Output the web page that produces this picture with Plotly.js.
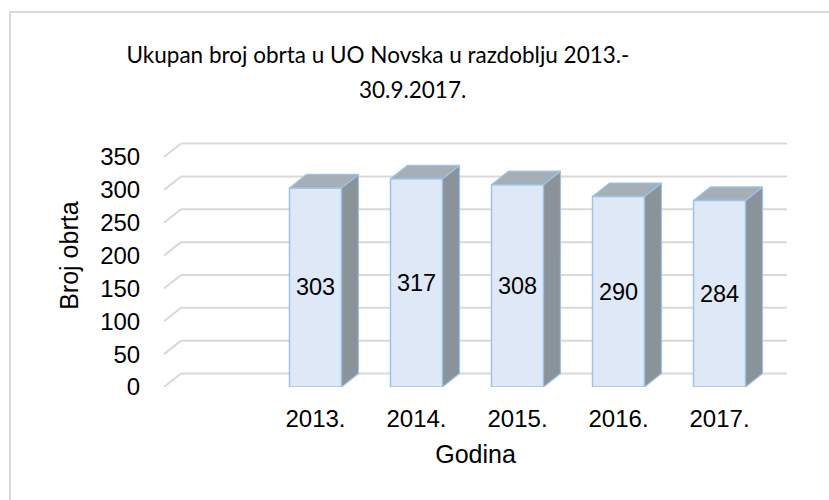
<!DOCTYPE html>
<html>
<head>
<meta charset="utf-8">
<script src="https://cdn.plot.ly/plotly-3.0.1.min.js"></script>
<style>html,body{margin:0;padding:0;background:#fff;}#chart{width:829px;height:500px;}</style>
</head>
<body>
<div id="chart"></div>
<script>
// Data
const categories = ["2013.", "2014.", "2015.", "2016.", "2017."];
const values = [303, 317, 308, 290, 284];
const yTicks = [0, 50, 100, 150, 200, 250, 300, 350];

// 3D look parameters (in axis units)
const barW = 0.515;
const depthX = 0.168;
const depthY = 20.5;
const xMin = -1.5;
const xMax = categories.length - 0.5;

const xs = categories.map((c, i) => i);

// side and top faces computed from data
const sideX = [], sideY = [], topX = [], topY = [];
values.forEach((v, i) => {
  const r = i + barW / 2, l = i - barW / 2;
  sideX.push(r, r + depthX, r + depthX, r, r, null);
  sideY.push(0, depthY, v + depthY, v, 0, null);
  topX.push(l, r, r + depthX, l + depthX, l, null);
  topY.push(v, v, v + depthY, v + depthY, v, null);
});

const edge = '#9dc3e6';
const font = "'Liberation Sans', Arial, sans-serif";
const traces = [
  {
    type: 'bar', x: xs, y: values, width: barW,
    marker: {color: '#dee8f6', line: {color: edge, width: 1.5}},
    text: values.map(String), textposition: 'inside', insidetextanchor: 'middle',
    textangle: 0, textfont: {family: font, size: 23.5, color: '#000'},
    hoverinfo: 'x+y', showlegend: false
  },
  {
    type: 'scatter', mode: 'lines', x: sideX, y: sideY, fill: 'toself',
    fillcolor: '#8b939a', line: {color: edge, width: 1.2}, hoverinfo: 'skip', showlegend: false
  },
  {
    type: 'scatter', mode: 'lines', x: topX, y: topY, fill: 'toself',
    fillcolor: '#a6afb7', line: {color: edge, width: 1.2}, hoverinfo: 'skip', showlegend: false
  }
];

// back-wall gridlines
const shapes = [];
yTicks.forEach(t => {
  shapes.push({type: 'line', layer: 'below', xref: 'x', yref: 'y', x0: xMin, y0: t, x1: xMin + depthX, y1: t + depthY,
    line: {color: '#d9d9d9', width: 2}});
  shapes.push({type: 'line', layer: 'below', xref: 'x', yref: 'y', x0: xMin + depthX, y0: t + depthY, x1: xMax + depthX, y1: t + depthY,
    line: {color: '#d9d9d9', width: 2}});
});
// chart area border
shapes.push({type: 'rect', xref: 'paper', yref: 'paper', x0: 10/829, y0: -0.05, x1: 1.05, y1: 1 - 12/500,
  line: {color: '#d9d9d9', width: 2}, fillcolor: 'rgba(0,0,0,0)', layer: 'below'});

const layout = {
  width: 829, height: 500,
  margin: {l: 0, r: 0, t: 0, b: 0},
  paper_bgcolor: '#fff', plot_bgcolor: 'rgba(0,0,0,0)',
  font: {family: font, size: 24, color: '#000'},
  title: {text: 'Ukupan broj obrta u UO Novska u razdoblju 2013.-', x: 378/829, xanchor: 'center',
    y: 1 - 55/500, yanchor: 'middle', xref: 'paper', yref: 'paper',
    font: {family: 'Lato, sans-serif', size: 22.5, color: '#000'}},
  annotations: [
    {text: '30.9.2017.', xref: 'paper', yref: 'paper', x: 412/829, y: 1 - 90/500, xanchor: 'center', yanchor: 'middle',
      showarrow: false, font: {family: 'Lato, sans-serif', size: 22.5, color: '#000'}}
  ],
  xaxis: {
    domain: [164/829, 787/829], range: [xMin, xMax + depthX],
    tickmode: 'array', tickvals: xs, ticktext: categories,
    showgrid: false, zeroline: false, showline: false,
    ticks: 'outside', ticklen: 10, tickcolor: 'rgba(0,0,0,0)',
    tickfont: {family: font, size: 24},
    title: {text: 'Godina', standoff: 14, font: {family: font, size: 25}},
    fixedrange: true
  },
  yaxis: {
    domain: [1 - 387/500, 1 - 124.2/500], range: [0, 400],
    tickmode: 'array', tickvals: yTicks,
    showgrid: false, zeroline: false, showline: false,
    ticks: 'outside', ticklen: 18, tickcolor: 'rgba(0,0,0,0)',
    tickfont: {family: font, size: 24},
    title: {text: 'Broj obrta', standoff: 14, font: {family: font, size: 25}},
    fixedrange: true
  },
  shapes: shapes,
  bargap: 0
};

Plotly.newPlot('chart', traces, layout, {displayModeBar: false, staticPlot: true});
</script>
</body>
</html>
